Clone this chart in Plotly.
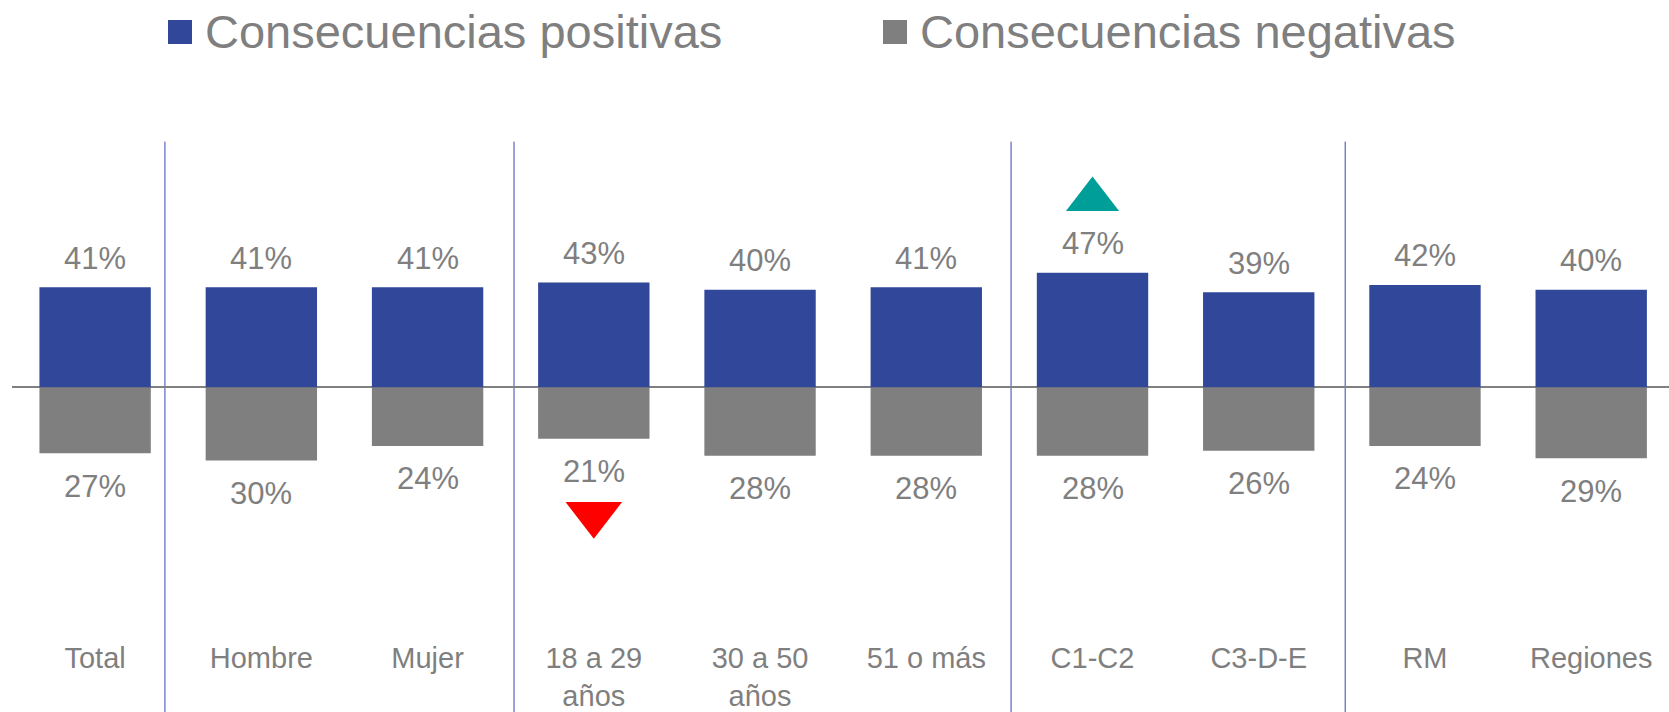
import plotly.graph_objects as go

# ---------- data ----------
categorias = ["Total", "Hombre", "Mujer", "18 a 29<br>años", "30 a 50<br>años",
              "51 o más", "C1-C2", "C3-D-E", "RM", "Regiones"]
positivas = [41, 41, 41, 43, 40, 41, 47, 39, 42, 40]
negativas = [27, 30, 24, 21, 28, 28, 28, 26, 24, 29]
# significance flags: 'up' = higher than total, 'down' = lower
diferencias = ["", "", "", "down", "", "", "up", "", "", ""]
separadores = [0.42, 2.52, 5.51, 7.52]   # group dividers between categories

# ---------- style ----------
AZUL = "#30479A"
GRIS = "#7F7F7F"
TEXTO = "#7F7F7F"
FONT = "Arial, Liberation Sans, sans-serif"

W, H = 1669, 712
M = dict(l=12, r=0, t=60, b=82)
PW = W - M["l"] - M["r"]
PH = H - M["t"] - M["b"]


def px_x(p):
    return (p - M["l"]) / PW


def px_y(p):
    return (H - M["b"] - p) / PH


xs = list(range(len(categorias)))

fig = go.Figure()

fig.add_trace(go.Bar(
    x=xs, y=positivas, name="Consecuencias positivas",
    marker=dict(color=AZUL, line=dict(width=0)), width=0.67,
    showlegend=False,
))
fig.add_trace(go.Bar(
    x=xs, y=[-v for v in negativas], name="Consecuencias negativas",
    marker=dict(color=GRIS, line=dict(width=0)), width=0.67,
    showlegend=False,
))

# triangles for significant differences
up_x = [i for i, d in enumerate(diferencias) if d == "up"]
dn_x = [i for i, d in enumerate(diferencias) if d == "down"]
fig.add_trace(go.Scatter(
    x=up_x, y=[positivas[i] + 30 for i in up_x], mode="markers",
    marker=dict(symbol="triangle-up", size=46, color="#009E99"),
    showlegend=False, hoverinfo="skip",
))
fig.add_trace(go.Scatter(
    x=dn_x, y=[-negativas[i] - 31 for i in dn_x], mode="markers",
    marker=dict(symbol="triangle-down", size=49, color="#FF0000"),
    showlegend=False, hoverinfo="skip",
))

annotations = []
for i in xs:
    annotations.append(dict(
        x=i, y=positivas[i], text=f"{positivas[i]}%", showarrow=False,
        yanchor="middle", yshift=29, font=dict(size=31, color=TEXTO, family=FONT),
    ))
    annotations.append(dict(
        x=i, y=-negativas[i], text=f"{negativas[i]}%", showarrow=False,
        yanchor="middle", yshift=-33, font=dict(size=31, color=TEXTO, family=FONT),
    ))

# custom legend (big squares + text)
shapes = []
leyenda = [("Consecuencias positivas", AZUL, 168, 205),
           ("Consecuencias negativas", GRIS, 883, 920)]
for texto, color, sq_x, tx_x in leyenda:
    shapes.append(dict(
        type="rect", xref="paper", yref="paper",
        x0=px_x(sq_x), x1=px_x(sq_x + 24), y0=px_y(44), y1=px_y(20),
        fillcolor=color, line=dict(width=0),
    ))
    annotations.append(dict(
        xref="paper", yref="paper", x=px_x(tx_x - 2), y=px_y(31),
        xanchor="left", yanchor="middle", text=texto, showarrow=False,
        font=dict(size=47, color=TEXTO, family=FONT),
    ))

for s in separadores:
    shapes.append(dict(
        type="line", xref="x", yref="paper", x0=s, x1=s,
        y0=px_y(H + 5), y1=px_y(141.6),
        line=dict(color="#3448B0", width=1), layer="below",
    ))

ymax = (387.4 - M["t"]) / 2.44
ymin = (387.4 - (H - M["b"])) / 2.44

fig.update_layout(
    width=W, height=H, margin=M,
    paper_bgcolor="white", plot_bgcolor="white",
    barmode="relative", bargap=0.33,
    showlegend=False,
    annotations=annotations, shapes=shapes,
    xaxis=dict(
        range=[-0.5, 9.468], tickmode="array", tickvals=xs, ticktext=categorias,
        showgrid=False, zeroline=False, showline=False, ticks="",
        tickfont=dict(size=29, color=TEXTO, family=FONT),
        ticklabelstandoff=8,
    ),
    yaxis=dict(
        range=[ymin, ymax], showgrid=False, showticklabels=False,
        zeroline=True, zerolinecolor="#808080", zerolinewidth=2,
    ),
)

fig.write_html(
    "out.html",
    config={"displayModeBar": False},
    post_script="document.body.style.margin='0';document.body.style.overflow='hidden';",
)
